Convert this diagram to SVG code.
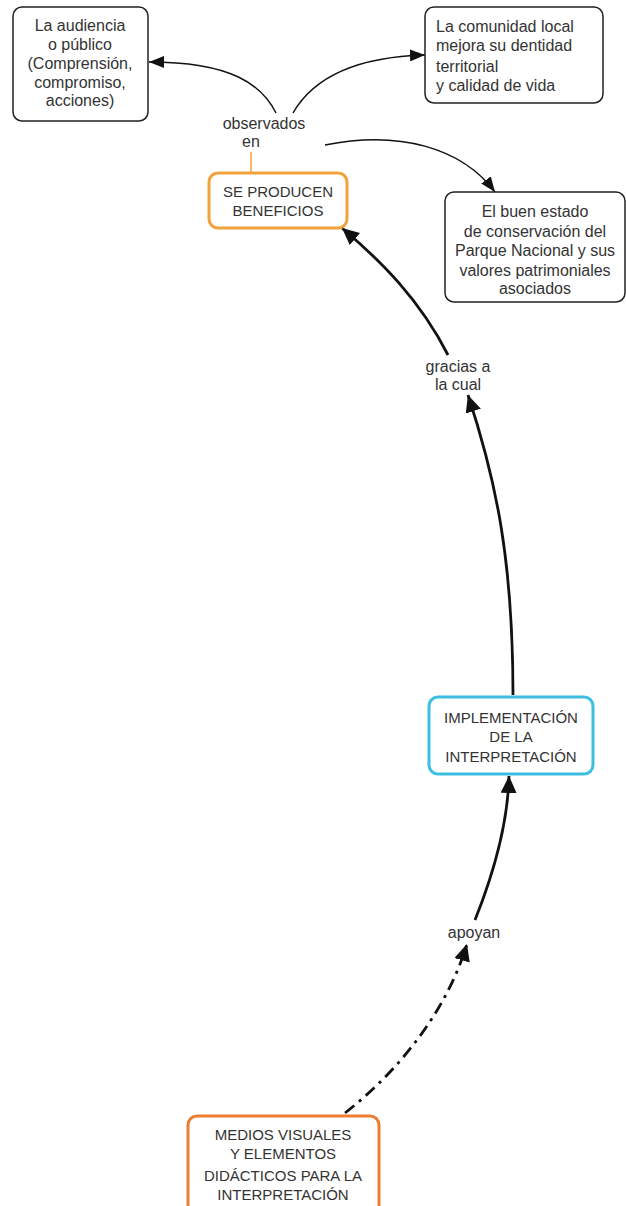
<svg xmlns="http://www.w3.org/2000/svg" width="626" height="1206" viewBox="0 0 626 1206">
<defs>
<style>
text{font-family:"Liberation Sans",Arial,sans-serif;fill:#333;}
.t{font-size:16px;}
.u{font-size:15px;}
.box{fill:#fff;stroke:#222;stroke-width:1.5;}
.thin{fill:none;stroke:#111;stroke-width:1.5;}
.thick{fill:none;stroke:#111;stroke-width:2.8;}
</style>
<marker id="ah" markerUnits="userSpaceOnUse" markerWidth="16" markerHeight="12" refX="15" refY="6" orient="auto"><path d="M0,0 L15,6 L0,12 Z" fill="#111"/></marker>
<marker id="ahb" markerUnits="userSpaceOnUse" markerWidth="18" markerHeight="16" refX="17" refY="8" orient="auto"><path d="M0,0 L17,8 L0,16 Z" fill="#111"/></marker>
</defs>
<rect width="626" height="1206" fill="#fff"/>
<g id="connectors">
<path class="thin" d="M276,113 C262,85 232,62 149,62" marker-end="url(#ah)"/>
<path class="thin" d="M293,113 C312,80 352,57 425,55" marker-end="url(#ah)"/>
<path class="thin" d="M325,145 C400,130 462,148 495,192" marker-end="url(#ah)"/>
<path class="thick" d="M448,355 C420,300 382,262 342,228" marker-end="url(#ahb)"/>
<path class="thick" d="M513,695 C513,560 496,480 468,395" marker-end="url(#ahb)"/>
<path class="thick" d="M475,920 C495,870 508,820 509,776" marker-end="url(#ahb)"/>
<path class="thick" d="M345,1113 C400,1070 447,1010 467,944" stroke-dasharray="12 6 3 6" marker-end="url(#ahb)"/>
<path d="M251,152 L251,173" stroke="#f2a23a" stroke-width="1.5" fill="none"/>
</g>
<g id="audiencia">
<rect class="box" x="13" y="7" width="135" height="114" rx="9"/>
<text class="t" text-anchor="middle"><tspan x="80" y="31">La audiencia</tspan><tspan x="80" y="50">o público</tspan><tspan x="80" y="69">(Comprensión,</tspan><tspan x="80" y="88">compromiso,</tspan><tspan x="80" y="106">acciones)</tspan></text>
</g>
<g id="comunidad">
<rect class="box" x="425" y="7" width="178" height="96" rx="9"/>
<text class="t"><tspan x="436" y="32">La comunidad local</tspan><tspan x="436" y="51">mejora su dentidad</tspan><tspan x="436" y="72">territorial</tspan><tspan x="436" y="91">y calidad de vida</tspan></text>
</g>
<g id="observados">
<text class="t" text-anchor="middle"><tspan x="264" y="129">observados</tspan><tspan x="251" y="147">en</tspan></text>
</g>
<g id="beneficios">
<rect x="209" y="173" width="138" height="55" rx="9" fill="#fff" stroke="#f2a23a" stroke-width="3"/>
<text class="u" text-anchor="middle"><tspan x="278" y="197">SE PRODUCEN</tspan><tspan x="278" y="216">BENEFICIOS</tspan></text>
</g>
<g id="conservacion">
<rect class="box" x="445" y="192" width="180" height="110" rx="9"/>
<text class="t" text-anchor="middle"><tspan x="535" y="217">El buen estado</tspan><tspan x="535" y="237">de conservación del</tspan><tspan x="535" y="256">Parque Nacional y sus</tspan><tspan x="535" y="276">valores patrimoniales</tspan><tspan x="535" y="294">asociados</tspan></text>
</g>
<g id="gracias">
<text class="t" text-anchor="middle"><tspan x="458" y="372">gracias a</tspan><tspan x="458" y="390">la cual</tspan></text>
</g>
<g id="implementacion">
<rect x="429" y="697" width="164" height="77" rx="9" fill="#fff" stroke="#3cbfe3" stroke-width="3"/>
<text class="u" text-anchor="middle"><tspan x="511" y="723">IMPLEMENTACIÓN</tspan><tspan x="511" y="742">DE LA</tspan><tspan x="511" y="762">INTERPRETACIÓN</tspan></text>
</g>
<g id="apoyan">
<text class="t" text-anchor="middle" x="474" y="938">apoyan</text>
</g>
<g id="medios">
<rect x="188" y="1116" width="191" height="100" rx="9" fill="#fff" stroke="#ee7d31" stroke-width="3"/>
<text class="u" text-anchor="middle"><tspan x="283" y="1140">MEDIOS VISUALES</tspan><tspan x="283" y="1159">Y ELEMENTOS</tspan><tspan x="283" y="1181">DIDÁCTICOS PARA LA</tspan><tspan x="283" y="1200">INTERPRETACIÓN</tspan></text>
</g>
</svg>
